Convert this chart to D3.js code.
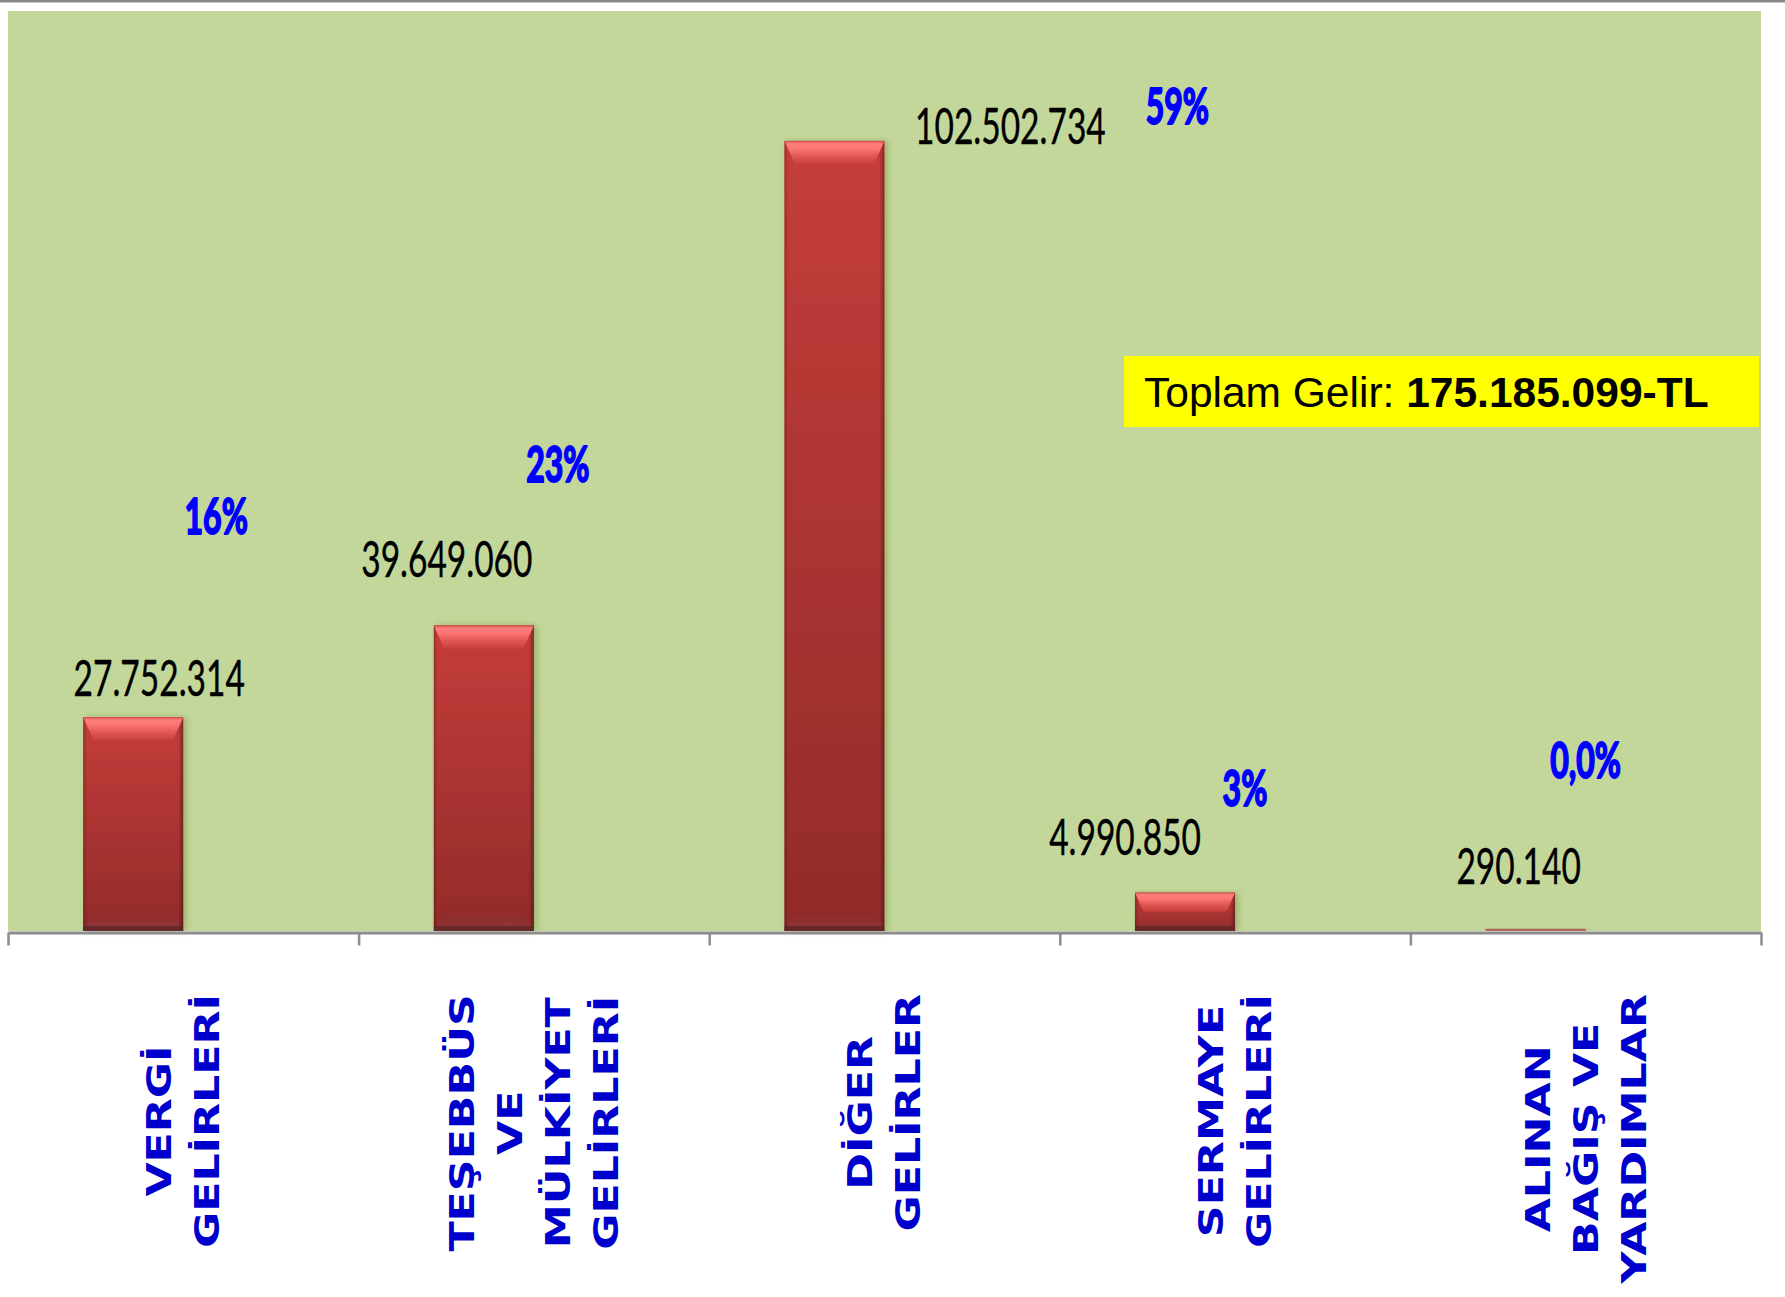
<!DOCTYPE html>
<html>
<head>
<meta charset="utf-8">
<script src="https://cdn.jsdelivr.net/npm/d3@7"></script>
<style>
  body { margin: 0; background: #fff; }
  svg { display: block; }
</style>
</head>
<body>
<div id="chart"></div>
<script>
// Data
const categories = [
  "VERGİ GELİRLERİ",
  "TEŞEBBÜS VE MÜLKİYET GELİRLERİ",
  "DİĞER GELİRLER",
  "SERMAYE GELİRLERİ",
  "ALINAN BAĞIŞ VE YARDIMLAR",
];
const categoryLines = [
  ["VERGİ", "GELİRLERİ"],
  ["TEŞEBBÜS", "VE", "MÜLKİYET", "GELİRLERİ"],
  ["DİĞER", "GELİRLER"],
  ["SERMAYE", "GELİRLERİ"],
  ["ALINAN", "BAĞIŞ VE", "YARDIMLAR"],
];
const values = [27752314, 39649060, 102502734, 4990850, 290140];
const percentLabels = ["16%", "23%", "59%", "3%", "0,0%"];
const totalTitle = "Toplam Gelir: ";
const totalValue = "175.185.099-TL";
const yMax = 120000000;

// Label nudges (labels were dragged by hand in the original), relative to bar centre / bar top
const valueNudge = [[26, -39], [-37, -66], [176, -15], [-60, -55], [-17, -63]];
const pctNudge = [[83, -201], [74, -161], [343, -35], [60, -104], [50, -169]];

// Dimensions
const width = 1785;
const height = 1297;
const plot = { left: 8, right: 1761, top: 11, bottom: 931 };

const trFormat = d3.formatLocale({
  decimal: ",",
  thousands: ".",
  grouping: [3],
  currency: ["", ""],
}).format(",d");

const data = categories.map((c, i) => ({
  category: c,
  lines: categoryLines[i],
  value: values[i],
  pct: percentLabels[i],
  vn: valueNudge[i],
  pn: pctNudge[i],
}));

// Scales
const xScale = d3.scaleBand().domain(categories).range([plot.left, plot.right]);
// two series per category in the original (second one hidden), gap width 150%
const xInner = d3.scaleBand().domain(["value", "pct"]).range([0, xScale.bandwidth()]).paddingOuter(0.75);
const yScale = d3.scaleLinear().domain([0, yMax]).range([plot.bottom, 6]);
const edgeScale = d3.scaleLinear().domain([0, categories.length]).range([plot.left, plot.right]);

const svg = d3.select("#chart").append("svg").attr("width", width).attr("height", height);
const defs = svg.append("defs");

// Gradients
function vGrad(id, stops) {
  const g = defs.append("linearGradient").attr("id", id)
    .attr("x1", 0).attr("y1", 0).attr("x2", 0).attr("y2", 1);
  stops.forEach(([o, c, a]) => g.append("stop").attr("offset", o).attr("stop-color", c).attr("stop-opacity", a ?? 1));
}
function hGrad(id, stops) {
  const g = defs.append("linearGradient").attr("id", id)
    .attr("x1", 0).attr("y1", 0).attr("x2", 1).attr("y2", 0);
  stops.forEach(([o, c, a]) => g.append("stop").attr("offset", o).attr("stop-color", c).attr("stop-opacity", a ?? 1));
}
vGrad("barBody", [[0, "#c53d3b"], [1, "#922b29"]]);
vGrad("topBevel", [[0, "#cf4b49"], [0.12, "#ff7f7d"], [0.35, "#fb7472"], [0.6, "#e25b59"], [1, "#c43d3b"]]);
vGrad("botBevel", [[0, "#8f3434", 0], [1, "#8a3d3c", 0.9]]);
hGrad("leftEdge", [[0, "#000", 0.22], [1, "#000", 0]]);
hGrad("rightEdge", [[0, "#000", 0], [1, "#000", 0.35]]);

const shadow = defs.append("filter").attr("id", "barShadow")
  .attr("x", "-20%").attr("y", "-5%").attr("width", "150%").attr("height", "110%");
shadow.append("feDropShadow").attr("dx", 3).attr("dy", 0).attr("stdDeviation", 3)
  .attr("flood-color", "#4f6a22").attr("flood-opacity", 0.35);

// Top border line of the slide
svg.append("rect").attr("x", 0).attr("y", 0).attr("width", width).attr("height", 2).attr("fill", "#8a8a8a");
svg.append("rect").attr("x", 0).attr("y", 2).attr("width", width).attr("height", 1).attr("fill", "#c8c8c8");

// Plot background
svg.append("rect")
  .attr("x", plot.left).attr("y", plot.top)
  .attr("width", plot.right - plot.left).attr("height", plot.bottom - plot.top)
  .attr("fill", "#c4d79b");

// Bars
const barW = xInner.bandwidth();
const barG = svg.append("g").attr("class", "bars")
  .selectAll("g").data(data).join("g")
  .attr("transform", (d) => `translate(${xScale(d.category) + xInner("value")},${yScale(d.value)})`);

barG.each(function (d, i) {
  const g = d3.select(this);
  const h = yScale(0) - yScale(d.value);
  const clipId = "clip" + i;
  defs.append("clipPath").attr("id", clipId)
    .append("rect").attr("width", barW).attr("height", h);

  // very thin bars come out muted in the original rendering
  const tiny = h < 6;
  g.append("rect").attr("width", barW).attr("height", h)
    .attr("fill", tiny ? "#b0685a" : "url(#barBody)").attr("filter", "url(#barShadow)");
  if (tiny) return;

  const inner = g.append("g").attr("clip-path", `url(#${clipId})`);
  const bh = Math.min(24, h * 0.5);
  const inset = Math.min(11, bh * 0.45);
  inner.append("rect").attr("width", 4).attr("height", h).attr("fill", "url(#leftEdge)");
  inner.append("rect").attr("x", barW - 5).attr("width", 5).attr("height", h).attr("fill", "url(#rightEdge)");
  inner.append("path")
    .attr("d", `M0,0H${barW}L${barW - inset},${bh}H${inset}Z`)
    .attr("fill", "url(#topBevel)");
  const bb = Math.min(20, h * 0.3);
  inner.append("path")
    .attr("d", `M${inset},${h - bb}H${barW - inset}L${barW},${h}H0Z`)
    .attr("fill", "url(#botBevel)");
  inner.append("rect").attr("y", h - Math.min(5, h * 0.25)).attr("width", barW)
    .attr("height", Math.min(5, h * 0.25)).attr("fill", "#5e2525").attr("opacity", 0.85);
});

// Axis
const axisG = svg.append("g")
  .attr("transform", `translate(0,${plot.bottom + 1.5})`)
  .call(d3.axisBottom(edgeScale).tickValues(d3.range(categories.length + 1))
    .tickSize(13).tickSizeOuter(0).tickFormat(""));
axisG.select(".domain").attr("stroke", "#8c8c8c").attr("stroke-width", 3);
axisG.selectAll(".tick line").attr("stroke", "#8c8c8c").attr("stroke-width", 2.5);

// Value labels
svg.append("g").attr("class", "value-labels")
  .selectAll("text").data(data).join("text")
  .attr("transform", (d) => {
    const cx = xScale(d.category) + xInner("value") + barW / 2 + d.vn[0];
    const cy = yScale(d.value) + d.vn[1];
    return `translate(${cx},${cy}) scale(0.67,1)`;
  })
  .attr("text-anchor", "middle")
  .attr("dy", "0.358em")
  .attr("font-family", "Lato, 'Open Sans', sans-serif")
  .attr("font-size", 50)
  .attr("fill", "#000")
  .attr("stroke", "#000")
  .attr("stroke-width", 0.4)
  .text((d) => trFormat(d.value));

// Percentage labels
svg.append("g").attr("class", "pct-labels")
  .selectAll("text").data(data).join("text")
  .attr("transform", (d) => {
    const cx = xScale(d.category) + xInner("value") + barW / 2 + d.pn[0];
    const cy = yScale(d.value) + d.pn[1];
    return `translate(${cx},${cy}) scale(0.64,1)`;
  })
  .attr("text-anchor", "middle")
  .attr("dy", "0.358em")
  .attr("font-family", "Lato, 'Open Sans', sans-serif")
  .attr("font-weight", "bold")
  .attr("font-size", 50)
  .attr("fill", "#0000ff")
  .attr("stroke", "#0000ff")
  .attr("stroke-width", 2)
  .attr("stroke-linejoin", "round")
  .text((d) => d.pct);

// Category labels (rotated, stretched)
const catStretch = 1.34;
const catTop = 994;
const lineGap = 48;
const catG = svg.append("g").attr("class", "category-labels")
  .selectAll("g").data(data).join("g");

catG.each(function (d) {
  const g = d3.select(this);
  const n = d.lines.length;
  const texts = g.selectAll("text").data(d.lines).join("text")
    .attr("x", 0)
    .attr("y", (t, j) => (j - (n - 1) / 2) * lineGap)
    .attr("dy", "0.36em")
    .attr("text-anchor", "middle")
    .attr("font-family", "'DejaVu Sans', Verdana, sans-serif")
    .attr("font-weight", "bold")
    .attr("font-size", 33)
    .attr("fill", "#0000cc")
    .text((t) => t);
  const maxLen = d3.max(texts.nodes(), (el) => el.getComputedTextLength()) * catStretch;
  const cx = xScale(d.category) + xScale.bandwidth() / 2;
  const cy = catTop + maxLen / 2;
  g.attr("transform", `translate(${cx},${cy}) rotate(-90) scale(${catStretch},1)`);
});

// Total box
const totalG = svg.append("g").attr("class", "total");
totalG.append("rect")
  .attr("x", 1124).attr("y", 356).attr("width", 635).attr("height", 71)
  .attr("fill", "#ffff00");
const totalText = totalG.append("text")
  .attr("x", 1144).attr("y", 407)
  .attr("font-family", "'Liberation Sans', Arial, sans-serif")
  .attr("font-size", 42.5)
  .attr("fill", "#000");
totalText.append("tspan").text(totalTitle);
totalText.append("tspan").attr("font-weight", "bold").text(totalValue);
</script>
</body>
</html>
